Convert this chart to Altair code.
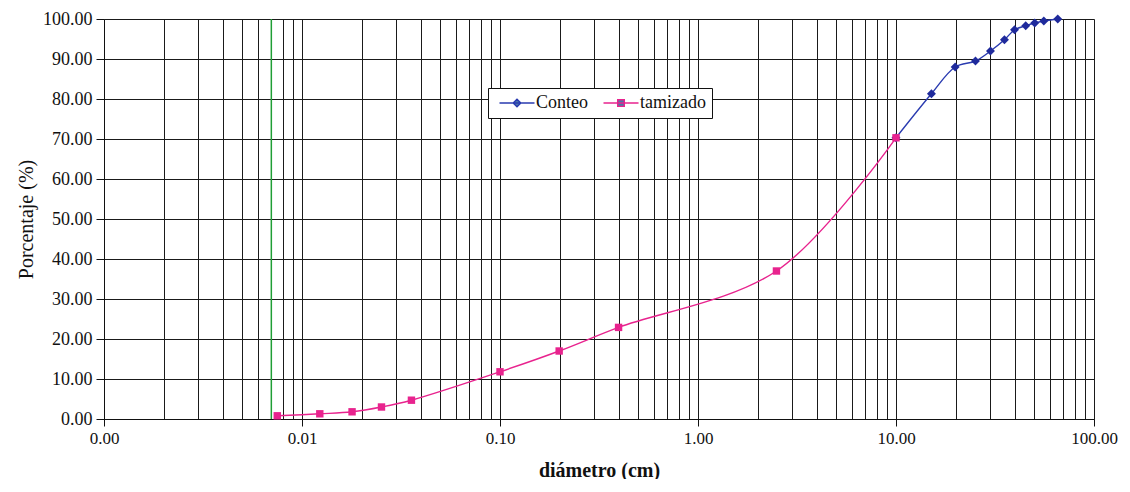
import altair as alt
import pandas as pd

# --- data ---
series = ["Conteo", "tamizado"]
marker_colors = ["#1f2a9c", "#e8238e"]
line_colors = ["#2a3bb0", "#e8238e"]

conteo_d = [10.0, 15.1, 19.9, 25.2, 30.0, 35.3, 39.7, 45.2, 50.2, 55.8, 65.6]
conteo_p = [70.3, 81.3, 88.0, 89.5, 92.0, 94.8, 97.3, 98.3, 99.0, 99.5, 100.0]

tamiz_d = [0.0075, 0.0123, 0.0179, 0.0252, 0.0357, 0.1, 0.199, 0.397, 2.49, 10.0]
tamiz_p = [0.8, 1.3, 1.8, 3.0, 4.7, 11.8, 17.0, 22.9, 37.0, 70.3]

green_line = [0.007]

x_major = [0.001, 0.01, 0.1, 1.0, 10.0, 100.0]
y_ticks = [0, 10, 20, 30, 40, 50, 60, 70, 80, 90, 100]

# grid positions for a log axis (1..9 of each decade)
x_grid = []
for base in x_major[:-1]:
    for m in range(1, 10):
        x_grid.append(round(m * base, 6))
x_grid.append(x_major[-1])

FONT = "Liberation Serif"

df_c = pd.DataFrame({"d": conteo_d, "p": conteo_p, "serie": "Conteo"})
df_t = pd.DataFrame({"d": tamiz_d, "p": tamiz_p, "serie": "tamizado"})
df = pd.concat([df_c, df_t], ignore_index=True)
df_g = pd.DataFrame({"d": green_line})

decade_test = "abs(log(datum.value)/LN10 - round(log(datum.value)/LN10)) < 0.001"

x_enc = alt.X(
    "d:Q",
    scale=alt.Scale(type="log", domain=[x_major[0], x_major[-1]], nice=False),
    axis=alt.Axis(
        values=x_grid,
        labelExpr=f"{decade_test} ? format(datum.value, '.2f') : ''",
        labelOverlap=False,
        labelFlush=False,
        labelFont=FONT,
        labelFontSize=17,
        labelColor="#111",
        labelPadding=4,
        tickSize=7,
        tickColor="#111",
        tickOpacity={"condition": {"test": decade_test, "value": 1}, "value": 0},
        grid=True,
        gridColor="#1a1a1a",
        gridWidth=1,
        domainColor="#111",
        title="diámetro (cm)",
        titleFont=FONT,
        titleFontSize=20,
        titleFontWeight="bold",
        titleColor="#111",
        titlePadding=14,
    ),
)

y_enc = alt.Y(
    "p:Q",
    scale=alt.Scale(domain=[y_ticks[0], y_ticks[-1]], nice=False),
    axis=alt.Axis(
        values=y_ticks,
        format=".2f",
        labelFont=FONT,
        labelFontSize=18,
        labelColor="#111",
        labelPadding=4,
        tickSize=8,
        tickColor="#111",
        grid=True,
        gridColor="#1a1a1a",
        gridWidth=1,
        domainColor="#111",
        title="Porcentaje (%)",
        titleFont=FONT,
        titleFontSize=20,
        titleFontWeight="normal",
        titleColor="#111",
        titlePadding=6,
    ),
)

leg = alt.Legend(
    orient="none",
    legendX=384,
    legendY=69,
    direction="horizontal",
    title="",
    titleFontSize=1,
    titlePadding=0,
    symbolSize=49,
    symbolStrokeWidth=1.4,
    labelFont=FONT,
    labelFontSize=18,
    labelColor="#111",
    labelOffset=24,
    columnPadding=10,
    fillColor="white",
    strokeColor="#111",
    padding=6,
)

green = alt.Chart(df_g).mark_rule(color="#1f9e35", strokeWidth=1.5).encode(x=x_enc)

lines = alt.Chart(df).mark_line(interpolate="catmull-rom", strokeWidth=1.4).encode(
    x=x_enc, y=y_enc,
    color=alt.Color("serie:N", scale=alt.Scale(domain=series, range=line_colors), legend=leg),
    order="d:Q",
)

pts_c = alt.Chart(df_c).mark_point(shape="diamond", filled=True, size=80, opacity=1, color=marker_colors[0])\
    .encode(x=x_enc, y=y_enc)
pts_t = alt.Chart(df_t).mark_point(shape="square", filled=True, size=55, opacity=1, color=marker_colors[1])\
    .encode(x=x_enc, y=y_enc)

# legend symbols: a short line with the series marker in its middle
legend_paths = [
    "M-1,0L9,0M4,-1.1L5.1,0L4,1.1L2.9,0Z",
    "M-1,0L9,0M3.05,-0.95L4.95,-0.95L4.95,0.95L3.05,0.95Z",
]

legend_layer = alt.Chart(df).mark_point(filled=True, opacity=0).encode(
    x=x_enc, y=y_enc,
    shape=alt.Shape("serie:N", scale=alt.Scale(domain=series, range=legend_paths), legend=leg),
)

chart = alt.layer(green, lines, pts_c, pts_t, legend_layer).properties(
    width=990,
    height=400,
    padding={"left": 96, "top": 11, "right": 28, "bottom": 60},
    autosize=alt.AutoSizeParams(type="none"),
    background="white",
).configure_view(stroke="#111", strokeWidth=1.2).configure(font=FONT)

chart.save("out.html", embed_options={"renderer": "svg", "actions": False})
